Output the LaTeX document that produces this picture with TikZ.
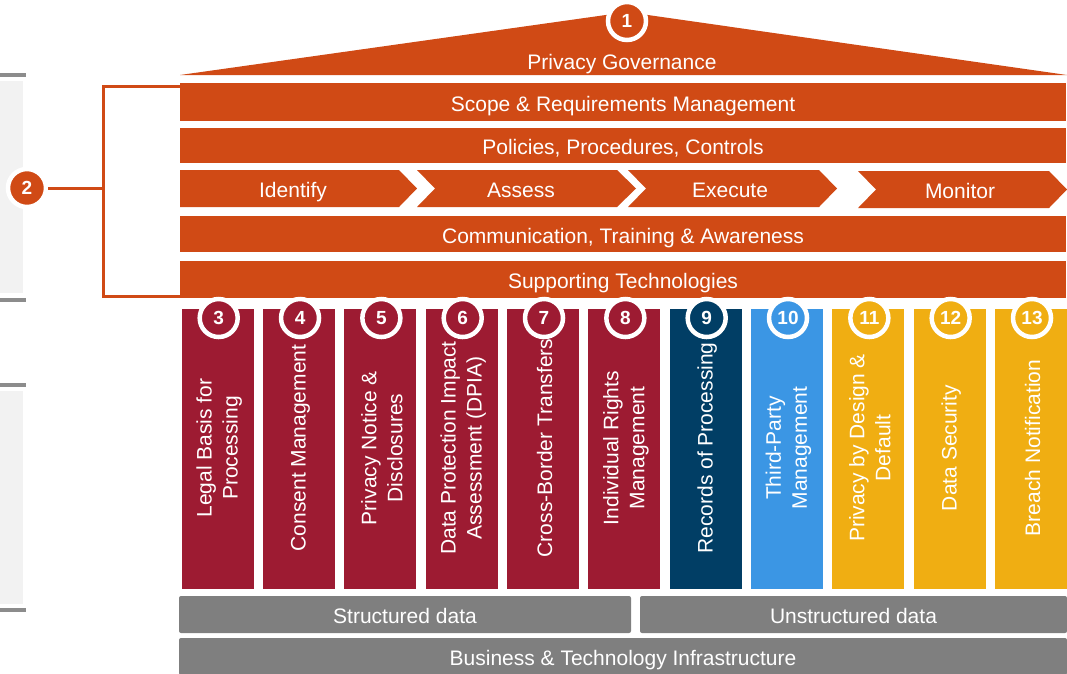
\documentclass[tikz,border=0pt]{standalone}
\usepackage{fontspec}
\setmainfont{Liberation Sans}
\definecolor{pwcorange}{RGB}{208,74,21}
\definecolor{pwcmaroon}{RGB}{157,27,50}
\definecolor{pwcnavy}{RGB}{1,62,101}
\definecolor{pwcblue}{RGB}{59,150,228}
\definecolor{pwcgold}{RGB}{240,174,18}
\definecolor{pwcslate}{RGB}{127,127,127}
\definecolor{pwcpanel}{RGB}{242,242,242}
\definecolor{pwcbar}{RGB}{140,140,140}
\tikzset{
  lbl/.style={text=white, inner sep=0pt, font=\fontsize{21}{24}\selectfont},
  vlbl/.style={text=white, inner sep=0pt, font=\fontsize{21}{26}\selectfont},
  hlbl/.style={lbl, text height=20pt, text depth=1.5pt},
  band/.style={hlbl, fill=pwcorange, minimum width=886pt},
  chevron/.style={fill=pwcorange},
  pillar/.style={minimum width=72pt, minimum height=280pt, inner sep=0pt},
  badge/.style={circle, draw=white, line width=4.5pt, minimum size=38pt, inner sep=0pt, text=white, font=\bfseries\fontsize{19}{19}\selectfont},
  base/.style={hlbl, fill=pwcslate, rounded corners=2pt, minimum height=37pt},
  bracketline/.style={draw=pwcorange, line width=3pt},
  sidebar/.style={fill=pwcbar},
  sidepanel/.style={fill=pwcpanel}
}
\begin{document}
\begin{tikzpicture}[x=1pt,y=-1pt]
\useasboundingbox (0,0) rectangle (1067,673);

% left side panels
\fill[sidebar] (0,73) rectangle (26,77);
\fill[sidepanel] (0,81) rectangle (23,293);
\fill[sidebar] (0,298) rectangle (26,302);
\fill[sidebar] (0,383) rectangle (26,387);
\fill[sidepanel] (0,391) rectangle (23,604);
\fill[sidebar] (0,608) rectangle (26,612);

% roof
\fill[pwcorange] (180,75) -- (627,12) -- (1067,75) -- cycle;
\node[hlbl] (gov) at (622,60) {Privacy Governance};
\node[badge, fill=pwcorange] (b1) at (627,21) {1};

% bands
\node[band, minimum height=38pt] (scope) at (623,102) {Scope \& Requirements Management};
\node[band, minimum height=35pt] (pol) at (623,145.5) {Policies, Procedures, Controls};
\node[band, minimum height=36pt] (comm) at (623,234) {Communication, Training \& Awareness};
\node[band, minimum height=37pt] (supp) at (623,279.5) {Supporting Technologies};

% chevrons
\fill[chevron] (180,170) -- (399,170) -- (417,188.5) -- (399,207) -- (180,207) -- cycle;
\fill[chevron] (417,170) -- (617,170) -- (636,188.5) -- (617,207) -- (417,207) -- (435,188.5) -- cycle;
\fill[chevron] (628,170) -- (819,170) -- (837,188.5) -- (819,207) -- (628,207) -- (646,188.5) -- cycle;
\fill[chevron] (858,171) -- (1049,171) -- (1067,189.5) -- (1049,208) -- (858,208) -- (876,189.5) -- cycle;
\node[hlbl] (identify) at (293,188.5) {Identify};
\node[hlbl] (assess) at (521,188.5) {Assess};
\node[hlbl] (execute) at (730,188.5) {Execute};
\node[hlbl] (monitor) at (960,189.5) {Monitor};

% bracket and badge 2
\coordinate (brtop) at (180,86);
\coordinate (brbot) at (180,296);
\coordinate (brmid) at (103,188);
\draw[bracketline] (brtop) -| (brbot -| brmid) -- (brbot);
\node[badge, fill=pwcorange] (b2) at (27,188) {2};
\draw[bracketline] (b2.east) -- (brmid);

% pillars
\foreach \n/\c/\t [count=\i from 0] in {
  3/pwcmaroon/{Legal Basis for\\Processing},
  4/pwcmaroon/{Consent Management},
  5/pwcmaroon/{Privacy Notice \&\\Disclosures},
  6/pwcmaroon/{Data Protection Impact\\Assessment (DPIA)},
  7/pwcmaroon/{Cross-Border Transfers},
  8/pwcmaroon/{Individual Rights\\Management},
  9/pwcnavy/{Records of Processing},
  10/pwcblue/{Third-Party\\Management},
  11/pwcgold/{Privacy by Design \&\\Default},
  12/pwcgold/{Data Security},
  13/pwcgold/{Breach Notification}}{
  \pgfmathsetmacro{\cx}{217.7+81.33*\i}
  \node[pillar, fill=\c] (col\n) at (\cx,449) {};
  \node[vlbl, rotate=90, align=center] (txt\n) at (\cx+1.5,448) {\t};
  \node[badge, fill=\c] (badge\n) at (\cx+1,318) {\n};
}

% base
\node[base, minimum width=452pt] (struct) at (405,614.5) {Structured data};
\node[base, minimum width=427pt] (unstruct) at (853.5,614.5) {Unstructured data};
\node[base, minimum width=888pt] (infra) at (623,656.5) {Business \& Technology Infrastructure};
\end{tikzpicture}
\end{document}
